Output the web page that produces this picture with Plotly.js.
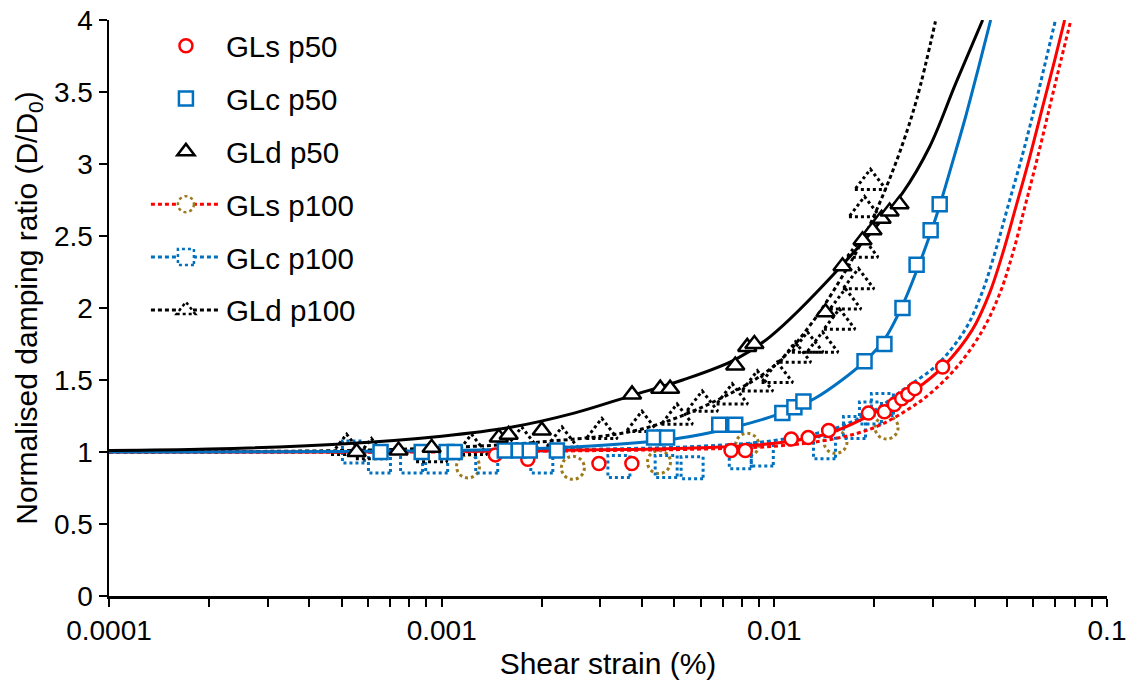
<!DOCTYPE html>
<html>
<head>
<meta charset="utf-8">
<script src="https://cdn.plot.ly/plotly-3.0.1.min.js"></script>
<style>html,body{margin:0;padding:0;background:#fff;}#chart{width:1129px;height:686px;}</style>
</head>
<body>
<div id="chart"></div>
<script>
// ---------- data ----------
const glsP50X = [0.00145,0.001815,0.00297,0.00373,0.00741,0.00818,0.01124,0.01264,0.01456,0.01918,0.02142,0.02294,0.02415,0.0252,0.02644,0.03206];
const glsP50Y = [0.98,0.95,0.92,0.92,1.01,1.01,1.09,1.10,1.15,1.27,1.28,1.33,1.37,1.40,1.44,1.59];

const glcP50X = [0.000655,0.000871,0.001035,0.001094,0.001548,0.001706,0.00184,0.00222,0.00435,0.00476,0.00683,0.00763,0.01057,0.01149,0.01223,0.01867,0.02142,0.02428,0.02677,0.0295,0.03141];
const glcP50Y = [1.0,1.0,1.0,1.0,1.01,1.01,1.01,1.01,1.10,1.10,1.19,1.19,1.27,1.31,1.35,1.63,1.75,2.0,2.3,2.54,2.72];

const gldP50X = [0.000555,0.000742,0.000933,0.001485,0.00159,0.0020,0.003735,0.00454,0.00486,0.00763,0.00829,0.00871,0.01425,0.01603,0.01841,0.01973,0.02101,0.02221,0.02379];
const gldP50Y = [1.0,1.01,1.03,1.10,1.12,1.15,1.40,1.44,1.44,1.60,1.73,1.75,1.97,2.29,2.47,2.54,2.62,2.67,2.72];

const glsP100X = [0.0012,0.00248,0.0045,0.00829,0.01527,0.02175];
const glsP100Y = [0.90,0.89,0.93,1.05,1.07,1.17];

const glcP100X = [0.000543,0.00065,0.000812,0.000966,0.001366,0.002,0.00341,0.00473,0.00566,0.0079,0.0092,0.01415,0.01742,0.01945,0.02113];
const glcP100Y = [1.0,0.93,0.93,0.93,0.93,0.93,0.90,0.90,0.89,0.96,0.98,1.03,1.17,1.27,1.33];

const gldP100X = [0.000518,0.000615,0.000933,0.00123,0.00174,0.0023,0.00303,0.004,0.0051,0.00607,0.00747,0.00889,0.0102,0.01156,0.01258,0.01396,0.0157,0.01636,0.0179,0.0184,0.01867,0.01945];
const gldP100Y = [1.03,1.0,0.98,1.03,1.08,1.08,1.14,1.19,1.24,1.33,1.38,1.47,1.53,1.67,1.74,1.74,1.90,2.04,2.18,2.40,2.68,2.87];

// fitted curves
const glsFit50X = [0.0001,0.0003,0.001,0.003,0.006,0.01,0.0146,0.0192,0.0242,0.0264,0.0324,0.0394,0.0443,0.0486,0.0532,0.0586,0.0641,0.0696,0.0746];
const glsFit50Y = [1.0,1.0,1.003,1.015,1.03,1.06,1.13,1.25,1.38,1.43,1.60,1.85,2.10,2.38,2.70,3.05,3.40,3.72,4.0];

const glsFit100X = [0.0001,0.001,0.003,0.006,0.01,0.015,0.02,0.025,0.0292,0.0358,0.0423,0.0476,0.0521,0.0566,0.0619,0.0673,0.0727,0.0779];
const glsFit100Y = [1.0,1.0,1.01,1.02,1.04,1.09,1.17,1.29,1.40,1.604,1.847,2.10,2.38,2.70,3.05,3.40,3.72,4.0];

const glcFit50X = [0.0001,0.001,0.0025,0.005,0.0075,0.0105,0.0133,0.0187,0.0214,0.0243,0.0268,0.0295,0.0314,0.0343,0.0376,0.0411,0.0447];
const glcFit50Y = [1.0,1.01,1.035,1.09,1.17,1.27,1.375,1.63,1.78,2.02,2.26,2.52,2.71,3.01,3.33,3.67,4.0];

const glcFit100X = [0.0001,0.001,0.003,0.006,0.01,0.015,0.02,0.02464,0.0308,0.0374,0.0420,0.0460,0.0503,0.0555,0.0607,0.0655,0.0700];
const glcFit100Y = [1.0,1.005,1.02,1.04,1.08,1.16,1.29,1.44,1.604,1.847,2.10,2.38,2.70,3.05,3.40,3.72,4.0];

const gldFit50X = [0.0001,0.0002,0.0005,0.001,0.0016,0.0025,0.0037,0.0053,0.0076,0.0097,0.0153,0.0243,0.0293,0.0351,0.0423];
const gldFit50Y = [1.01,1.02,1.056,1.11,1.17,1.27,1.39,1.50,1.64,1.80,2.25,2.80,3.12,3.56,4.0];

const gldFit100X = [0.0001,0.0005,0.001,0.002,0.004,0.007,0.01,0.013,0.0164,0.0184,0.021,0.0238,0.0268,0.0305];
const gldFit100Y = [1.0,1.01,1.03,1.07,1.16,1.38,1.6,1.9,2.26,2.47,2.76,3.08,3.45,3.99];

const seriesNames = ['GLs p50','GLc p50','GLd p50','GLs p100','GLc p100','GLd p100'];
const xTickVals = [0.0001,0.001,0.01,0.1];
const xTickText = ['0.0001','0.001','0.01','0.1'];
const xTitle = 'Shear strain (%)';
const yTitle = 'Normalised damping ratio (D/D<sub>0</sub>)';

// ---------- styling ----------
const RED = '#FF0000', BLUE = '#0070C0', BLACK = '#000000', GOLD = '#9C7A1C';
const FONT = 'Liberation Sans, Arial, sans-serif';
const DOT = '4px,3px';

const minorVals = [];
for (let e = -4; e < -1; e++) for (let m = 2; m <= 9; m++) minorVals.push(m * Math.pow(10, e));

function pts(x, y, sym, col, size, lw, fill, uid) {
  return {x: x, y: y, type: 'scatter', mode: 'markers', showlegend: false, uid: uid, hoverinfo: 'skip',
    marker: {symbol: sym, size: size, color: fill, line: {color: col, width: lw}}};
}
function fit(x, y, col, dash) {
  return {x: x, y: y, type: 'scatter', mode: 'lines', showlegend: false, hoverinfo: 'skip',
    line: {color: col, width: 3, dash: dash, shape: 'spline', smoothing: 1}};
}
function leg(name, rank, mode, lineCol, sym, mcol, msize, uid) {
  const t = {x: [null], y: [null], type: 'scatter', mode: mode, name: name, legendrank: rank,
    legendgroup: 'g' + rank, uid: uid,
    marker: {symbol: sym, size: msize, color: '#ffffff', line: {color: mcol, width: 2.5}}};
  if (lineCol) t.line = {color: lineCol, width: 3, dash: DOT};
  return t;
}

const traces = [
  // p100 data (dotted outlines)
  pts(glsP100X, glsP100Y, 'circle', GOLD, 23, 3, 'rgba(0,0,0,0)', 'pgls100'),
  pts(glcP100X, glcP100Y, 'square', BLUE, 22, 3, 'rgba(0,0,0,0)', 'pglc100'),
  pts(gldP100X, gldP100Y, 'triangle-up', BLACK, 27, 3, 'rgba(0,0,0,0)', 'pgld100'),
  // fitted curves
  fit(glsFit100X, glsFit100Y, RED, DOT),
  fit(glcFit100X, glcFit100Y, BLUE, DOT),
  fit(gldFit100X, gldFit100Y, BLACK, DOT),
  fit(glsFit50X, glsFit50Y, RED, 'solid'),
  fit(glcFit50X, glcFit50Y, BLUE, 'solid'),
  fit(gldFit50X, gldFit50Y, BLACK, 'solid'),
  // p50 data
  pts(glsP50X, glsP50Y, 'circle', RED, 13, 2.5, '#ffffff', 'pgls50'),
  pts(glcP50X, glcP50Y, 'square', BLUE, 14, 2.5, '#ffffff', 'pglc50'),
  pts(gldP50X, gldP50Y, 'triangle-up', BLACK, 16, 2.5, '#ffffff', 'pgld50'),
  // legend entries
  leg(seriesNames[0], 1, 'markers', null, 'circle', RED, 13, 'l1'),
  leg(seriesNames[1], 2, 'markers', null, 'square', BLUE, 14, 'l2'),
  leg(seriesNames[2], 3, 'markers', null, 'triangle-up', BLACK, 15, 'l3'),
  leg(seriesNames[3], 4, 'lines+markers', RED, 'circle', GOLD, 16, 'ldot4'),
  leg(seriesNames[4], 5, 'lines+markers', BLUE, 'square', BLUE, 16, 'ldot5'),
  leg(seriesNames[5], 6, 'lines+markers', BLACK, 'triangle-up', BLACK, 16, 'ldot6')
];

const axisCommon = {
  showline: true, linecolor: BLACK, linewidth: 2.5, mirror: false,
  ticks: 'outside', ticklen: 8, tickwidth: 2, tickcolor: BLACK,
  showgrid: false, zeroline: false,
  tickfont: {family: FONT, size: 28, color: BLACK}
};

const layout = {
  width: 1129, height: 686,
  margin: {l: 109, r: 22, t: 20, b: 90},
  paper_bgcolor: '#ffffff', plot_bgcolor: '#ffffff',
  font: {family: FONT, color: BLACK},
  showlegend: true,
  legend: {x: 0.037, y: 1.0, xanchor: 'left', yanchor: 'top', bgcolor: 'rgba(0,0,0,0)',
    font: {family: FONT, size: 29.5, color: BLACK}, itemwidth: 70, tracegroupgap: 11.5, traceorder: 'grouped'},
  xaxis: Object.assign({}, axisCommon, {
    type: 'log', range: [-4, -1], tickmode: 'array', tickvals: xTickVals, ticktext: xTickText,
    minor: {tickmode: 'array', tickvals: minorVals, ticks: 'outside', ticklen: 8, tickwidth: 2, tickcolor: BLACK, showgrid: false},
    title: {text: xTitle, font: {family: FONT, size: 30, color: BLACK}, standoff: 8}
  }),
  yaxis: Object.assign({}, axisCommon, {
    range: [0, 4], tick0: 0, dtick: 0.5,
    title: {text: yTitle, font: {family: FONT, size: 30, color: BLACK}, standoff: 8}
  })
};

const gd = document.getElementById('chart');
function dotify() {
  document.querySelectorAll('.scatterlayer .trace').forEach(function (g) {
    const d = g.__data__;
    const uid = d && d[0] && d[0].trace ? d[0].trace.uid : '';
    if (/100$/.test(uid)) g.querySelectorAll('path.point').forEach(function (p) { p.style.strokeDasharray = '3,3'; });
  });
  document.querySelectorAll('.legend .traces').forEach(function (g) {
    const d = g.__data__;
    const uid = d && d[0] && d[0].trace ? d[0].trace.uid : '';
    if (/^ldot/.test(uid)) g.querySelectorAll('.legendpoints path.scatterpts').forEach(function (p) { p.style.strokeDasharray = '3,3'; });
  });
}
Plotly.newPlot(gd, traces, layout, {staticPlot: true, displayModeBar: false}).then(dotify);
gd.on && gd.on('plotly_afterplot', dotify);
</script>
</body>
</html>
